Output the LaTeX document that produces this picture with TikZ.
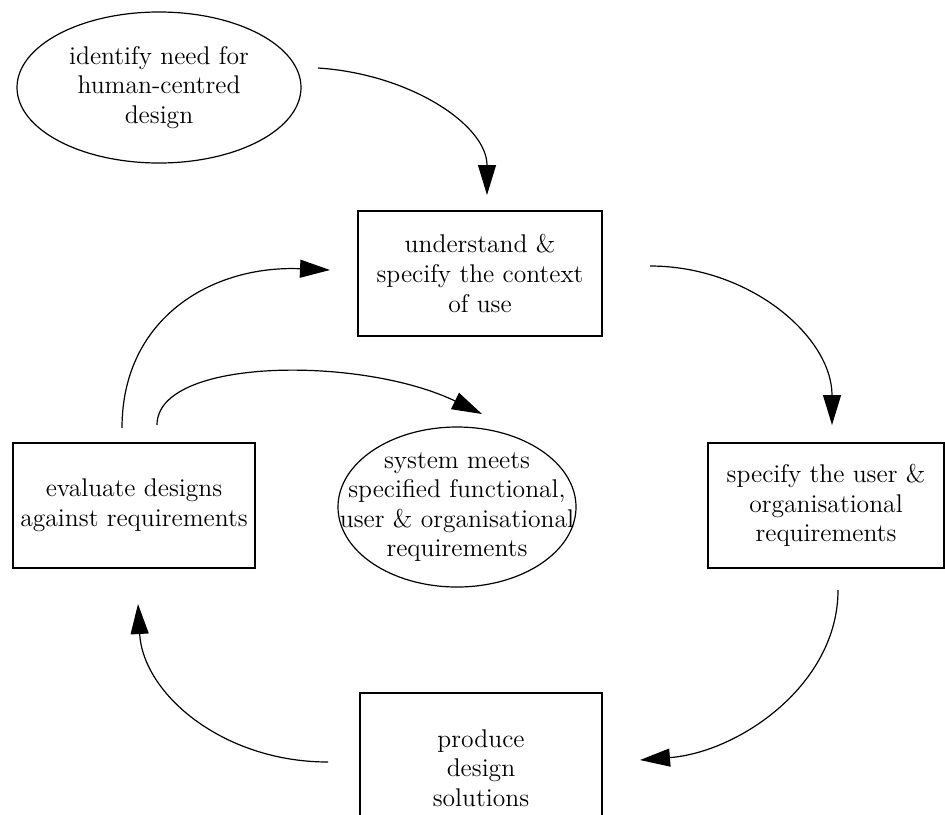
\documentclass[tikz,border=0pt]{standalone}
\usetikzlibrary{arrows.meta,shapes.geometric}
\begin{document}
\begin{tikzpicture}[x=0.5pt,y=-0.5pt,
    txt/.style={align=center,font=\fontsize{12.8}{14.8}\selectfont,inner sep=0pt},
    box/.style={txt,draw,line width=0.7pt,rectangle,minimum width=#1,minimum height=62.5pt},
    oval/.style={txt,draw,line width=0.6pt,ellipse},
    flow/.style={line width=0.6pt,-{Triangle[length=15pt,width=9pt]}}]
  \useasboundingbox (0,0) rectangle (945,814);

  \node[oval,minimum width=142pt,minimum height=75.5pt] (need) at (159,87.5)
    {identify need for\\human-centred\\design};
  \node[box=122pt] (ctx) at (480,273.5) {understand \&\\specify the context\\of use};
  \node[box=118pt] (req) at (826,505.5) {specify the user \&\\organisational\\requirements};
  \node[box=121pt] (eval) at (134,505.5) {evaluate designs\\against requirements};
  \node[oval,inner xsep=-20pt,inner ysep=-3pt,minimum width=119pt,minimum height=80pt] (meets)
    at (457,507) {system meets\\specified functional,\\user \& organisational\\requirements};
  \node[box=121pt,minimum height=75pt] (prod) at (481,768) {produce\\design\\solutions};

  \coordinate (n1) at (318,68);
  \coordinate (c0) at (487,195);
  \coordinate (c1) at (650,266);
  \coordinate (r0) at (832,425);
  \coordinate (r1) at (838,590);
  \coordinate (p0) at (640,760);
  \coordinate (p1) at (328,762);
  \coordinate (e0) at (138,604);
  \coordinate (e1) at (122,428);
  \coordinate (c2) at (330,270);
  \coordinate (e2) at (157,425);
  \coordinate (m0) at (482,414);

  \draw[flow] (n1) .. controls +(92,6) and +(0,-70) .. (c0);
  \draw[flow] (c1) .. controls +(100,0) and +(0,-88) .. (r0);
  \draw[flow] (r1) .. controls +(0,94) and +(100,-8) .. (p0);
  \draw[flow] (p1) .. controls +(-105,0) and +(5,90) .. (e0);
  \draw[flow] (e1) .. controls +(0,-110) and +(-118,-5) .. (c2);
  \draw[flow] (e2) .. controls +(0,-68) and +(-120,-58) .. (m0);
\end{tikzpicture}
\end{document}
